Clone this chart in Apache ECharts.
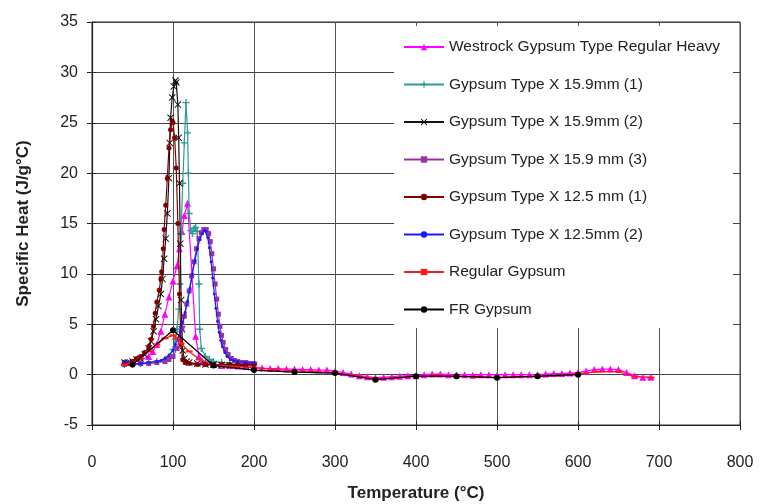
<!DOCTYPE html>
<html>
<head>
<meta charset="utf-8">
<script src="https://cdn.jsdelivr.net/npm/echarts@6/dist/echarts.min.js"></script>
<style>
html,body{margin:0;padding:0;background:#fff;}
#container{width:760px;height:504px;}
</style>
</head>
<body>
<div id="container"></div>
<script>
// series names (legend order)
var seriesNames = ['Westrock Gypsum Type Regular Heavy','Gypsum Type X 15.9mm (1)','Gypsum Type X 15.9mm (2)',
	'Gypsum Type X 15.9 mm (3)','Gypsum Type X 12.5 mm (1)','Gypsum Type X 12.5mm (2)','Regular Gypsum','FR Gypsum'];

// [temperature, specific heat]
var westrock = [[40,1.2],[50,1.2],[60,1.4],[70,1.8],[75,2.3],[80,3.0],[85,4.3],[90,6.0],[95,7.7],[100,9.3],[105,10.8],
	[108,12.5],[111,14.2],[114,15.8],[118,17.0],[128,3.8],[132,1.8],[136,1.3],[140,1.2],[150,1.0],[160,0.9],[170,0.9],
	[180,0.85],[190,0.8],[200,0.7],[210,0.65],[220,0.6],[230,0.6],[240,0.55],[250,0.55],[260,0.5],[270,0.5],[280,0.45],
	[290,0.45],[300,0.35],[310,0.2],[320,0.05],[330,-0.1],[340,-0.2],[350,-0.3],[360,-0.25],[370,-0.2],[380,-0.15],
	[390,-0.1],[400,-0.1],[410,0],[420,0.05],[430,0.05],[440,0],[450,0],[460,0],[470,-0.05],[480,0],[490,0],[500,-0.05],
	[510,0],[520,0],[530,0],[540,0],[550,0],[560,0.05],[570,0.1],[580,0.1],[590,0.15],[600,0.2],[610,0.35],[620,0.5],
	[630,0.55],[640,0.55],[650,0.5],[660,0.2],[670,-0.1],[680,-0.25],[690,-0.25]];
var typeX159a = [[40,1.0],[50,1.0],[60,1.1],[70,1.2],[80,1.3],[90,1.5],[95,1.8],[100,2.5],[103,3.5],[105,4.5],[107,6.5],
	[108.5,9],[110,14],[112,19],[114,23],[116,27],[118,24],[119,20],[120,16],[122,14.3],[124,14.0],[126,14.5],[128,14.6],
	[130,14.2],[132,9],[133,4.5],[135,2.6],[140,1.8],[145,1.5],[150,1.3],[160,1.2],[170,1.1],[180,1.0],[190,1.0],[200,1.0]];
var typeX159b = [[40,1.2],[45,1.2],[50,1.3],[55,1.5],[60,1.6],[65,2.0],[70,2.6],[73,3.3],[76,4.3],[79,5.5],[82,6.8],
	[85,8.0],[87,9.5],[89,11.5],[91,13.5],[93,16.0],[95,19.5],[96,23.0],[97,25.5],[99,27.5],[101,28.6],[103,29.2],
	[104,29.0],[106,26.8],[107,23.5],[108,19.0],[109,13.0],[110,7.4],[111,4.5],[112,2.4],[114,1.6],[117,1.3],[120,1.2],
	[130,1.1],[140,1.0],[150,1.0],[160,0.95],[170,0.95],[180,0.9],[190,0.9],[200,0.9]];
var typeX159c = [[40,1.0],[50,1.0],[60,1.1],[70,1.1],[80,1.2],[90,1.3],[95,1.5],[100,1.8],[105,2.6],[108,3.5],[111,4.6],
	[114,5.8],[117,7.0],[120,8.3],[123,9.8],[126,11.2],[129,12.5],[132,13.5],[135,14.1],[138,14.4],[141,14.4],[144,14.0],
	[146,13.2],[148,12.0],[150,10.5],[152,9.0],[154,7.5],[156,6.0],[158,4.8],[160,3.9],[162,3.2],[165,2.5],[168,2.0],
	[172,1.6],[176,1.4],[180,1.3],[185,1.2],[190,1.2],[195,1.1],[200,1.1]];
var typeX125a = [[40,1.2],[45,1.1],[50,1.3],[55,1.6],[60,1.8],[65,2.2],[70,2.8],[73,3.5],[76,4.8],[78,6.1],[80,7.2],
	[83,8.4],[85,9.5],[86,10.2],[88,12.5],[89,14.4],[91,16.8],[93,19.5],[95,22.5],[97,24.3],[99,25.2],[100,25.0],
	[102,23.5],[104,20.5],[106,15.0],[108,8.0],[110,3.0],[112,1.5],[115,1.2],[120,1.1],[130,1.0],[140,1.0],[150,1.0],
	[160,1.0],[170,1.0],[180,1.0],[190,1.0],[200,1.0]];
var typeX125b = [[40,1.3],[45,1.3],[50,1.1],[60,1.1],[70,1.2],[80,1.3],[85,1.4],[90,1.6],[95,1.9],[100,2.4],[103,3.0],
	[106,3.6],[109,4.3],[112,5.2],[115,6.2],[118,7.3],[121,8.6],[124,10.0],[127,11.3],[130,12.5],[133,13.4],[136,14.0],
	[139,14.3],[141,14.2],[143,13.6],[145,12.6],[147,11.2],[149,9.6],[151,8.0],[153,6.6],[155,5.3],[157,4.2],[159,3.4],
	[161,2.8],[164,2.2],[167,1.8],[171,1.5],[175,1.4],[180,1.3],[190,1.2],[200,1.15]];
var regular = [[40,1.0],[50,1.2],[60,1.6],[70,2.3],[80,3.0],[90,3.6],[100,3.9],[105,3.6],[110,3.1],[120,2.3],[133,1.5],
	[150,1.0],[175,0.8],[200,0.7],[225,0.5],[250,0.4],[275,0.3],[300,0.2],[325,-0.1],[350,-0.4],[375,-0.3],[400,-0.2],
	[425,-0.1],[450,-0.2],[475,-0.2],[500,-0.3],[525,-0.2],[550,-0.2],[575,-0.1],[600,0.1],[625,0.3],[650,0.3],
	[670,-0.2],[690,-0.3]];
var frGypsum = [[50,1.0],[100,4.4],[150,0.9],[200,0.45],[250,0.25],[300,0.15],[350,-0.5],[400,-0.15],[450,-0.15],
	[500,-0.3],[550,-0.15],[600,0.0]];

var seriesData = [westrock,typeX159a,typeX159b,typeX159c,typeX125a,typeX125b,regular,frGypsum];
var seriesColors = ['#ff00ff','#2f9a96','#111111','#9933a0','#800000','#1a1aff','#ff1a1a','#000000'];
var plusPath = 'path://M4,0H6V4H10V6H6V10H4V6H0V4H4Z';
var crossPath = 'path://M1,0L5,4L9,0L10,1L6,5L10,9L9,10L5,6L1,10L0,9L4,5L0,1Z';
var seriesSymbols = ['triangle',plusPath,crossPath,'rect','circle','circle','rect','circle'];
var symbolSizes = [7,7,7,5,5,3,[7,2],6];

var dom = document.getElementById('container');
var myChart = echarts.init(dom);
var series = [];
for (var i = 0; i < seriesNames.length; i++) {
	series.push({
		name: seriesNames[i],
		type: 'line',
		data: seriesData[i],
		symbol: seriesSymbols[i],
		symbolSize: symbolSizes[i],
		showAllSymbol: true,
		color: seriesColors[i],
		lineStyle: {width: 1.2, color: seriesColors[i]},
		itemStyle: {color: seriesColors[i]},
		animation: false,
		z: 2 + i / 10
	});
}

var axisFont = 'Liberation Sans, Arial, sans-serif';
var option = {
	animation: false,
	textStyle: {fontFamily: axisFont},
	grid: {left: 92, top: 22, width: 648, height: 403, show: true, borderColor: '#333', borderWidth: 1,
		outerBoundsMode: 'none', containLabel: false},
	legend: {
		orient: 'vertical',
		left: 403,
		top: 39,
		padding: 0,
		itemWidth: 40,
		itemHeight: 8,
		itemGap: 21.5,
		data: seriesNames,
		textStyle: {fontSize: 15.5, color: '#222', fontFamily: axisFont},
		z: 6
	},
	graphic: [{
		type: 'rect',
		shape: {x: 394, y: 26, width: 339, height: 302},
		style: {fill: '#fff'},
		z: 5
	}],
	xAxis: [{
		type: 'value',
		min: 0,
		max: 800,
		interval: 100,
		name: 'Temperature (°C)',
		nameLocation: 'middle',
		nameGap: 60,
		nameTextStyle: {fontSize: 17, fontWeight: 'bold', color: '#222'},
		axisLine: {onZero: false, lineStyle: {color: '#222', width: 1.2}},
		axisTick: {show: true, length: 5, lineStyle: {color: '#222'}},
		axisLabel: {fontSize: 16, color: '#222', margin: 30},
		splitLine: {show: true, lineStyle: {color: '#555', width: 1}}
	}, {
		type: 'value',
		position: 'bottom',
		min: 0,
		max: 800,
		interval: 100,
		axisLine: {show: false, onZero: false},
		axisTick: {show: true, inside: true, length: 4, lineStyle: {color: '#222'}},
		axisLabel: {show: false},
		splitLine: {show: false}
	}],
	yAxis: [{
		type: 'value',
		min: -5,
		max: 35,
		interval: 5,
		name: 'Specific Heat (J/g°C)',
		nameLocation: 'middle',
		nameGap: 60,
		nameTextStyle: {fontSize: 17, fontWeight: 'bold', color: '#222'},
		axisLine: {show: true, onZero: false, lineStyle: {color: '#222', width: 1.2}},
		axisTick: {show: true, length: 5, lineStyle: {color: '#222'}},
		axisLabel: {fontSize: 16, color: '#222', margin: 14},
		splitLine: {show: true, lineStyle: {color: '#444', width: 1}}
	}, {
		type: 'value',
		position: 'left',
		min: -5,
		max: 35,
		interval: 5,
		axisLine: {show: false, onZero: false},
		axisTick: {show: true, inside: true, length: 4, lineStyle: {color: '#222'}},
		axisLabel: {show: false},
		splitLine: {show: false}
	}],
	series: series
};
myChart.setOption(option, true);
</script>
</body>
</html>
